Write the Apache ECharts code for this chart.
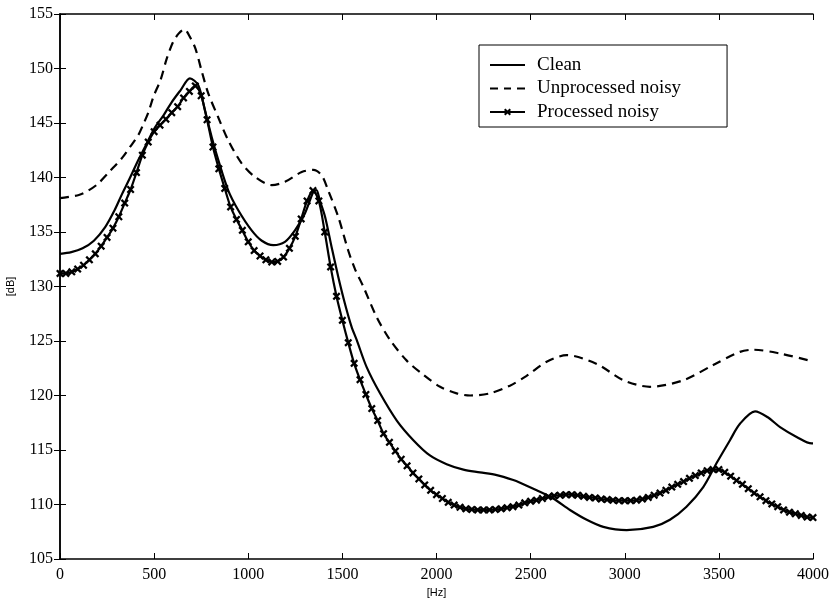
<!DOCTYPE html>
<html>
<head>
<meta charset="utf-8">
<script src="https://cdn.jsdelivr.net/npm/echarts@6/dist/echarts.min.js"></script>
<style>html,body{margin:0;padding:0;background:#fff}#c{width:835px;height:606px}</style>
</head>
<body>
<div id="c"></div>
<script>
// Clean (solid)
var cleanFreq = [0,60,120,180,240,290,330,370,416,460,505,550,593,640,690,735,770,806,841,894,947,1018,1072,1133,1195,1248,1301,1346,1362,1380,1408,1443,1478,1514,1549,1576,1629,1700,1789,1877,1965,2054,2143,2231,2320,2408,2444,2532,2620,2709,2798,2886,3010,3151,3240,3328,3417,3488,3559,3612,3692,3760,3825,3913,3993,4000];
var cleanDb = [133.0,133.15,133.5,134.2,135.45,137.0,138.5,139.9,141.6,143.1,144.6,145.7,146.9,148.0,149.1,148.45,146.15,143.7,141.6,138.8,137.0,135.15,134.2,133.8,134.1,135.15,136.7,138.7,138.85,137.9,136.4,133.6,130.9,128.4,126.3,125.1,122.6,120.2,117.7,115.9,114.5,113.7,113.2,112.95,112.7,112.25,112.0,111.3,110.55,109.5,108.6,107.95,107.65,107.95,108.6,109.8,111.6,113.8,115.9,117.4,118.55,118.0,117.1,116.2,115.6,115.6];

// Unprocessed noisy (dashed)
var noisyFreq = [0,100,150,200,266,330,372,416,443,470,496,535,567,600,630,660,690,720,752,788,841,894,965,1036,1125,1195,1284,1346,1390,1425,1478,1531,1567,1611,1682,1753,1842,1930,2019,2107,2178,2284,2390,2479,2585,2692,2851,2993,3134,3311,3470,3612,3683,3825,3984,4000];
var noisyDb = [138.1,138.4,138.8,139.4,140.6,141.8,142.8,143.9,144.9,146.0,147.4,149.0,150.9,152.4,153.2,153.6,152.9,151.8,149.8,147.7,145.5,143.4,141.3,140.05,139.3,139.6,140.5,140.7,140.2,138.8,136.4,133.3,131.6,130.0,127.2,125.1,123.2,121.9,120.8,120.2,120.0,120.2,120.9,121.8,123.1,123.7,122.9,121.4,120.8,121.4,122.8,124.0,124.2,123.85,123.2,123.15];

// Processed noisy (markers), one value every 31.25 Hz from 0 to 4000 Hz
var procStep = 31.25;
var procDb = [131.2,131.2,131.35,131.6,131.95,132.45,133.0,133.7,134.5,135.35,136.4,137.65,138.9,140.45,142.05,143.25,144.2,144.8,145.35,145.95,146.5,147.3,147.9,148.4,147.5,145.3,142.8,140.8,139.0,137.3,136.15,135.15,134.1,133.3,132.8,132.45,132.25,132.3,132.7,133.5,134.6,136.2,137.85,138.8,137.85,135.0,131.8,129.1,126.9,124.85,122.95,121.45,120.1,118.8,117.7,116.5,115.7,114.9,114.15,113.55,112.9,112.35,111.8,111.3,110.9,110.55,110.2,109.95,109.75,109.6,109.55,109.5,109.5,109.5,109.55,109.6,109.7,109.8,109.95,110.15,110.3,110.4,110.55,110.7,110.8,110.85,110.9,110.9,110.85,110.75,110.65,110.6,110.5,110.45,110.4,110.35,110.35,110.35,110.4,110.5,110.65,110.85,111.05,111.3,111.6,111.85,112.1,112.4,112.65,112.9,113.1,113.2,113.2,112.95,112.6,112.2,111.85,111.45,111.05,110.7,110.35,110.05,109.8,109.5,109.3,109.15,109.0,108.85,108.8];

var seriesNames = ['Clean', 'Unprocessed noisy', 'Processed noisy'];

function zip(a, b) { return a.map(function (v, i) { return [v, b[i]]; }); }
var procData = procDb.map(function (v, i) { return [i * procStep, v]; });

var serif = 'Liberation Serif, Times New Roman, serif';
var sans = 'Liberation Sans, Arial, sans-serif';
var xMark = 'path://M2,0L5,3L8,0L10,2L7,5L10,8L8,10L5,7L2,10L0,8L3,5L0,2Z';

// legend icons (line samples)
var iconSolid = 'path://M0,4H35V6H0Z';
var iconDash = 'path://M0,4H8V6H0Z M14,4H21V6H14Z M27,4H35V6H27Z';
var iconMark = 'path://M0,4H35V6H0Z M15.4,1.5L17.5,3.6L19.6,1.5L21,2.9L18.9,5L21,7.1L19.6,8.5L17.5,6.4L15.4,8.5L14,7.1L16.1,5L14,2.9Z';

var axisLine = { show: true, lineStyle: { color: '#000', width: 1.5 } };
var tickIn = { show: true, inside: true, length: 6, lineStyle: { color: '#000', width: 1 } };
var plain = function (v) { return String(v); };

var chart = echarts.init(document.getElementById('c'), null, { renderer: 'canvas' });
chart.setOption({
  animation: false,
  backgroundColor: '#fff',
  grid: { left: 60, right: 22, top: 14, bottom: 47, containLabel: false, outerBoundsMode: 'none' },
  legend: {
    orient: 'vertical',
    left: 479, top: 45,
    padding: [10, 46, 5, 11],
    borderColor: '#000', borderWidth: 1,
    backgroundColor: '#fff',
    itemWidth: 35, itemHeight: 14, itemGap: 3.5,
    symbolKeepAspect: true,
    textStyle: { fontFamily: serif, fontSize: 19, lineHeight: 20, color: '#000', padding: [0, 0, 0, 7] },
    data: [
      { name: seriesNames[0], icon: iconSolid, itemStyle: { color: '#000' } },
      { name: seriesNames[1], icon: iconDash, itemStyle: { color: '#000' } },
      { name: seriesNames[2], icon: iconMark, itemStyle: { color: '#000' } }
    ]
  },
  xAxis: [{
    type: 'value', min: 0, max: 4000, interval: 500,
    name: '[Hz]', nameLocation: 'middle', nameGap: 27,
    nameTextStyle: { fontFamily: sans, fontSize: 11, color: '#000' },
    axisLine: axisLine, axisTick: tickIn,
    axisLabel: { fontFamily: serif, fontSize: 16, color: '#000', margin: 8, formatter: plain },
    splitLine: { show: false }
  }, {
    type: 'value', min: 0, max: 4000, interval: 500, position: 'top',
    axisLine: axisLine, axisTick: tickIn, axisLabel: { show: false }, splitLine: { show: false }
  }],
  yAxis: [{
    type: 'value', min: 105, max: 155, interval: 5,
    name: '[dB]', nameLocation: 'middle', nameGap: 44,
    nameTextStyle: { fontFamily: sans, fontSize: 11, color: '#000' },
    axisLine: axisLine, axisTick: tickIn,
    axisLabel: { fontFamily: serif, fontSize: 16, color: '#000', margin: 7, formatter: plain },
    splitLine: { show: false }
  }, {
    type: 'value', min: 105, max: 155, interval: 5, position: 'right',
    axisLine: axisLine, axisTick: tickIn, axisLabel: { show: false }, splitLine: { show: false }
  }],
  series: [{
    name: seriesNames[0], type: 'line', smooth: 0.3, symbol: 'none',
    data: zip(cleanFreq, cleanDb),
    lineStyle: { color: '#000', width: 2.2 }, itemStyle: { color: '#000' }
  }, {
    name: seriesNames[1], type: 'line', smooth: 0.3, symbol: 'none',
    data: zip(noisyFreq, noisyDb),
    lineStyle: { color: '#000', width: 2.2, type: [9, 6] }, itemStyle: { color: '#000' }
  }, {
    name: seriesNames[2], type: 'line', smooth: 0.3, symbol: xMark, symbolSize: 8, showAllSymbol: true,
    data: procData,
    lineStyle: { color: '#000', width: 2.2 }, itemStyle: { color: '#000' }
  }]
});
</script>
</body>
</html>
